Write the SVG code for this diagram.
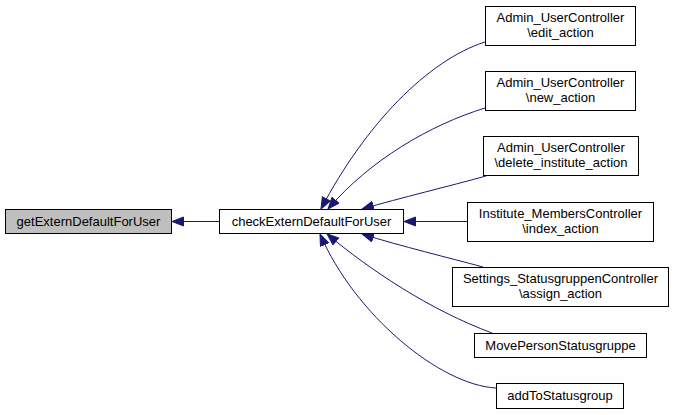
<svg xmlns="http://www.w3.org/2000/svg" width="675" height="415" viewBox="0 0 675 415">
<style>
.n rect{fill:#ffffff;stroke:#000000;stroke-width:1}
.n text{font-family:"Liberation Sans",Arial,sans-serif;font-size:13px;fill:#000000;text-anchor:middle}
.e path{fill:none;stroke:#191970;stroke-width:1}
</style>
<defs>
<marker id="ah" markerUnits="userSpaceOnUse" markerWidth="14" markerHeight="12" refX="12" refY="5" orient="auto">
<path d="M0.5,0.5 L12,5 L0.5,9.5 z" fill="#191970" stroke="#191970" stroke-width="1"/>
</marker>
</defs>
<rect width="675" height="415" fill="#ffffff"/>
<g id="edges" class="e">
<path d="M219,221.5 L172,221.5" marker-end="url(#ah)"/>
<path d="M485,42 C428,60 365,125 321,209" marker-end="url(#ah)"/>
<path d="M485,108 C430,125 370,160 328,209" marker-end="url(#ah)"/>
<path d="M486,176 C450,186 400,198 362,209" marker-end="url(#ah)"/>
<path d="M467,221.5 L404,221.5" marker-end="url(#ah)"/>
<path d="M483,267 C450,258 400,246 362,234" marker-end="url(#ah)"/>
<path d="M492,333 C430,310 370,270 327,234" marker-end="url(#ah)"/>
<path d="M496,388 C440,385 355,315 320,234" marker-end="url(#ah)"/>
</g>
<g id="node-getExternDefaultForUser" class="n">
<rect x="5.5" y="209.5" width="166" height="24" style="fill:#bfbfbf"/>
<text x="88.5" y="226">getExternDefaultForUser</text>
</g>
<g id="node-checkExternDefaultForUser" class="n">
<rect x="219.5" y="209.5" width="184" height="24"/>
<text x="311.5" y="226">checkExternDefaultForUser</text>
</g>
<g id="node-edit_action" class="n">
<rect x="485.5" y="6.5" width="150" height="39"/>
<text x="560.5" y="22">Admin_UserController</text>
<text x="560.5" y="37">\edit_action</text>
</g>
<g id="node-new_action" class="n">
<rect x="485.5" y="71.5" width="150" height="39"/>
<text x="560.5" y="87">Admin_UserController</text>
<text x="560.5" y="102">\new_action</text>
</g>
<g id="node-delete_institute_action" class="n">
<rect x="483.5" y="136.5" width="155" height="39"/>
<text x="561" y="152">Admin_UserController</text>
<text x="561" y="167">\delete_institute_action</text>
</g>
<g id="node-index_action" class="n">
<rect x="467.5" y="202.5" width="186" height="39"/>
<text x="560.5" y="218">Institute_MembersController</text>
<text x="560.5" y="233">\index_action</text>
</g>
<g id="node-assign_action" class="n">
<rect x="452.5" y="267.5" width="216" height="39"/>
<text x="560.5" y="283">Settings_StatusgruppenController</text>
<text x="560.5" y="298">\assign_action</text>
</g>
<g id="node-MovePersonStatusgruppe" class="n">
<rect x="474.5" y="333.5" width="172" height="24"/>
<text x="560.5" y="350">MovePersonStatusgruppe</text>
</g>
<g id="node-addToStatusgroup" class="n">
<rect x="496.5" y="383.5" width="127" height="25"/>
<text x="560" y="400">addToStatusgroup</text>
</g>
</svg>
